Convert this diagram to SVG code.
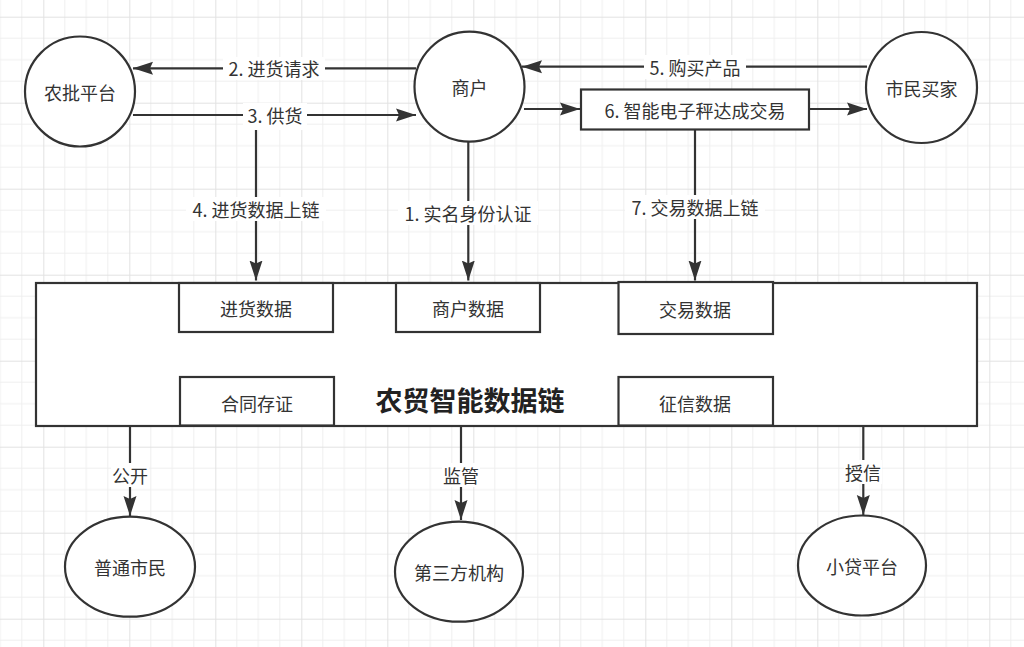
<svg xmlns="http://www.w3.org/2000/svg" width="1024" height="647" viewBox="0 0 1024 647">
<defs>
<pattern id="grid" patternUnits="userSpaceOnUse" x="43.3" y="16.7" width="86" height="86">
<path d="M21.5 0V86M43 0V86M64.5 0V86M0 21.5H86M0 43H86M0 64.5H86" stroke="#efefef" stroke-width="1" fill="none"/>
<path d="M0.5 0V86M0 0.5H86" stroke="#e2e2e2" stroke-width="1" fill="none"/>
</pattern>
<marker id="arr" markerUnits="userSpaceOnUse" markerWidth="22" markerHeight="16" refX="20" refY="7" orient="auto">
<path d="M20 7L0 0.5L3 7L0 13.5Z" fill="#333"/>
</marker>
</defs>
<style>
.n{fill:#fff;stroke:#333;stroke-width:2.2}
.e{fill:none;stroke:#333;stroke-width:2.2}
.ea{fill:none;stroke:#333;stroke-width:2.2;marker-end:url(#arr)}
.t{font-family:"Noto Sans CJK SC","Noto Sans",sans-serif;font-size:18px;fill:#333;text-anchor:middle;dominant-baseline:central}
.title{font-family:"Noto Sans CJK SC","Noto Sans",sans-serif;font-size:27px;font-weight:bold;fill:#222;text-anchor:middle;dominant-baseline:central}
.lb{fill:#fff}
</style>
<rect width="1024" height="647" fill="#fff"/>
<rect width="1024" height="647" fill="url(#grid)"/>

<g id="connectors">
<path class="ea" d="M416 68.3H133"/>
<path class="ea" d="M133 115H416"/>
<path class="ea" d="M256 115V280.5"/>
<path class="ea" d="M468.3 141.5V280.5"/>
<path class="ea" d="M867 66.7H522"/>
<path class="ea" d="M524 109H580"/>
<path class="ea" d="M809 109H867"/>
<path class="ea" d="M695 129.5V280.5"/>
<path class="ea" d="M130 426V516"/>
<path class="ea" d="M461 426V520"/>
<path class="ea" d="M863.3 426V515"/>
<rect class="lb" x="223" y="57" width="102" height="23"/>
<text class="t" x="274" y="68">2. 进货请求</text>
<rect class="lb" x="243" y="103" width="64" height="27"/>
<text class="t" x="275" y="115">3. 供货</text>
<rect class="lb" x="186" y="197" width="140" height="24"/>
<text class="t" x="256" y="209">4. 进货数据上链</text>
<rect class="lb" x="398" y="201" width="140" height="24"/>
<text class="t" x="468" y="213">1. 实名身份认证</text>
<rect class="lb" x="644" y="55" width="102" height="24"/>
<text class="t" x="695" y="67">5. 购买产品</text>
<rect class="lb" x="625" y="195" width="140" height="24"/>
<text class="t" x="695" y="207">7. 交易数据上链</text>
<rect class="lb" x="111" y="463" width="38" height="24"/>
<text class="t" x="130" y="475">公开</text>
<rect class="lb" x="442" y="463" width="38" height="24"/>
<text class="t" x="461" y="475">监管</text>
<rect class="lb" x="844" y="460" width="38" height="24"/>
<text class="t" x="863" y="472">授信</text>
</g>

<g id="nongpi">
<circle class="n" cx="80" cy="91.5" r="55"/>
<text class="t" x="80" y="92">农批平台</text>
</g>
<g id="shanghu">
<circle class="n" cx="469.5" cy="86.7" r="55"/>
<text class="t" x="469.5" y="87">商户</text>
</g>
<g id="shimin-maijia">
<circle class="n" cx="921.5" cy="87.5" r="55.5"/>
<text class="t" x="921.5" y="88">市民买家</text>
</g>
<g id="jiaoyi-box">
<rect class="n" x="581" y="89.5" width="228" height="40"/>
<text class="t" x="695" y="110">6. 智能电子秤达成交易</text>
</g>

<g id="chain">
<rect class="n" x="36" y="283" width="941" height="143"/>
<text class="title" x="470" y="399">农贸智能数据链</text>
</g>
<g id="jinhuo-data">
<rect class="n" x="179" y="283" width="154" height="49"/>
<text class="t" x="256" y="308">进货数据</text>
</g>
<g id="shanghu-data">
<rect class="n" x="396" y="283" width="144" height="49"/>
<text class="t" x="468" y="308">商户数据</text>
</g>
<g id="jiaoyi-data">
<rect class="n" x="618.5" y="282" width="154.5" height="52"/>
<text class="t" x="695" y="309">交易数据</text>
</g>
<g id="hetong">
<rect class="n" x="180" y="377" width="154" height="48.5"/>
<text class="t" x="257" y="403">合同存证</text>
</g>
<g id="zhengxin">
<rect class="n" x="618.5" y="377" width="154.5" height="48.5"/>
<text class="t" x="695" y="403">征信数据</text>
</g>

<g id="putong-shimin">
<ellipse class="n" cx="130" cy="566.7" rx="65" ry="50"/>
<text class="t" x="130" y="567">普通市民</text>
</g>
<g id="disanfang">
<ellipse class="n" cx="459" cy="571.7" rx="64" ry="50"/>
<text class="t" x="459" y="572">第三方机构</text>
</g>
<g id="xiaodai">
<ellipse class="n" cx="862" cy="565.5" rx="64" ry="50"/>
<text class="t" x="862" y="566">小贷平台</text>
</g>
</svg>
